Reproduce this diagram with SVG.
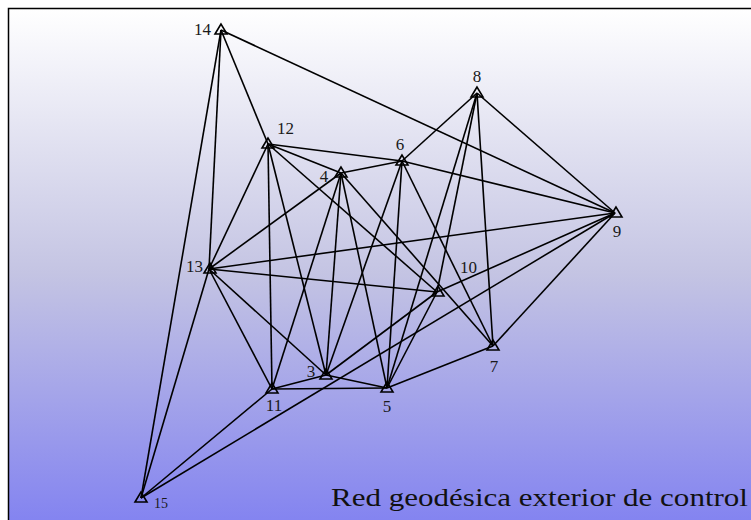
<svg xmlns="http://www.w3.org/2000/svg" width="751" height="520" viewBox="0 0 751 520">
<defs>
<linearGradient id="bg" x1="0" y1="0" x2="0" y2="1">
<stop offset="0" stop-color="#ffffff"/>
<stop offset="0.5" stop-color="#c4c4e3"/>
<stop offset="1" stop-color="#7f7ff1"/>
</linearGradient>
<style>
.e line{stroke:#000;stroke-width:1.6;fill:none}
.n polygon{fill:none;stroke:#000;stroke-width:1.6;stroke-linejoin:miter}
.n text{font-family:"Liberation Serif","DejaVu Serif",serif;font-size:17px;fill:#1a1a1a}
</style>
</defs>
<rect x="8.5" y="8.5" width="760" height="530" fill="url(#bg)" stroke="#000" stroke-width="1.5"/>
<g id="connectors" class="e">
<line x1="221" y1="30" x2="615" y2="213"/>
<line x1="221" y1="30" x2="268" y2="144"/>
<line x1="221" y1="30" x2="209" y2="269"/>
<line x1="221" y1="30" x2="141" y2="498"/>
<line x1="268" y1="144" x2="341" y2="173"/>
<line x1="268" y1="144" x2="402" y2="161"/>
<line x1="268" y1="144" x2="209" y2="269"/>
<line x1="268" y1="144" x2="272" y2="389"/>
<line x1="268" y1="144" x2="326" y2="375"/>
<line x1="268" y1="144" x2="437" y2="292"/>
<line x1="477" y1="93" x2="402" y2="161"/>
<line x1="477" y1="93" x2="615" y2="213"/>
<line x1="477" y1="93" x2="493" y2="346"/>
<line x1="477" y1="93" x2="387" y2="388"/>
<line x1="477" y1="93" x2="437" y2="292"/>
<line x1="402" y1="161" x2="341" y2="173"/>
<line x1="402" y1="161" x2="615" y2="213"/>
<line x1="402" y1="161" x2="326" y2="375"/>
<line x1="402" y1="161" x2="387" y2="388"/>
<line x1="402" y1="161" x2="493" y2="346"/>
<line x1="341" y1="173" x2="209" y2="269"/>
<line x1="341" y1="173" x2="272" y2="389"/>
<line x1="341" y1="173" x2="326" y2="375"/>
<line x1="341" y1="173" x2="387" y2="388"/>
<line x1="341" y1="173" x2="493" y2="346"/>
<line x1="209" y1="269" x2="615" y2="213"/>
<line x1="209" y1="269" x2="437" y2="292"/>
<line x1="209" y1="269" x2="326" y2="375"/>
<line x1="209" y1="269" x2="272" y2="389"/>
<line x1="209" y1="269" x2="141" y2="498"/>
<line x1="615" y1="213" x2="437" y2="292"/>
<line x1="615" y1="213" x2="141" y2="498"/>
<line x1="615" y1="213" x2="493" y2="346"/>
<line x1="437" y1="292" x2="326" y2="375"/>
<line x1="437" y1="292" x2="387" y2="388"/>
<line x1="493" y1="346" x2="387" y2="388"/>
<line x1="326" y1="375" x2="272" y2="389"/>
<line x1="326" y1="375" x2="387" y2="388"/>
<line x1="272" y1="389" x2="387" y2="388"/>
<line x1="272" y1="389" x2="141" y2="498"/>
</g>
<g id="n14" class="n"><polygon points="221,24 215,34 227,34"/><text x="211" y="35" text-anchor="end">14</text></g>
<g id="n12" class="n"><polygon points="268,138 262,148 274,148"/><text x="277" y="134">12</text></g>
<g id="n8" class="n"><polygon points="477,87 471,97 483,97"/><text x="477" y="82" text-anchor="middle">8</text></g>
<g id="n6" class="n"><polygon points="402,155 396,165 408,165"/><text x="400" y="150" text-anchor="middle">6</text></g>
<g id="n4" class="n"><polygon points="341,167 335,177 347,177"/><text x="324" y="182" text-anchor="middle">4</text></g>
<g id="n9" class="n"><polygon points="616,207 610,217 622,217"/><text x="617" y="237" text-anchor="middle">9</text></g>
<g id="n13" class="n"><polygon points="210,263 204,273 216,273"/><text x="203" y="272" text-anchor="end">13</text></g>
<g id="n10" class="n"><polygon points="438,286 432,296 444,296"/><text x="460" y="273">10</text></g>
<g id="n7" class="n"><polygon points="493,340 487,350 499,350"/><text x="494" y="372" text-anchor="middle">7</text></g>
<g id="n3" class="n"><polygon points="326,369 320,379 332,379"/><text x="311" y="377" text-anchor="middle">3</text></g>
<g id="n11" class="n"><polygon points="272,383 266,393 278,393"/><text x="274" y="411" text-anchor="middle">11</text></g>
<g id="n5" class="n"><polygon points="387,382 381,392 393,392"/><text x="387" y="412" text-anchor="middle">5</text></g>
<g id="n15" class="n"><polygon points="141,492 135,502 147,502"/><text x="154" y="508" style="font-size:14px">15</text></g>
<text x="331" y="506" textLength="417" lengthAdjust="spacingAndGlyphs" style="font-family:'Liberation Serif','DejaVu Serif',serif;font-size:25px;fill:#111">Red geodésica exterior de control</text>
</svg>
